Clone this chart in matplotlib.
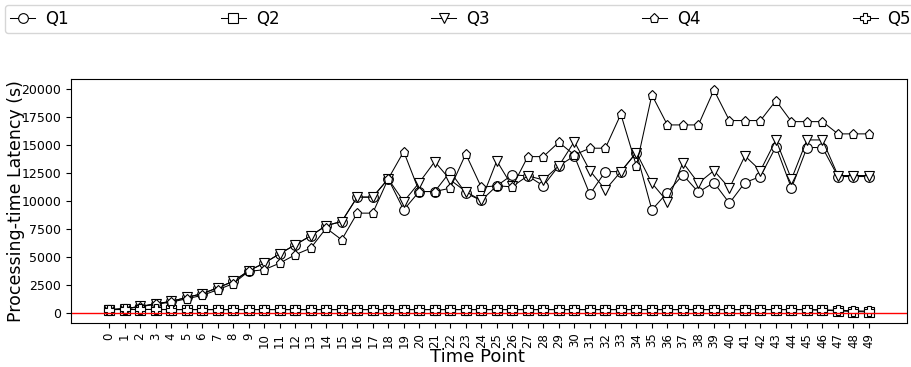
import numpy as np
import matplotlib
matplotlib.use('Agg')
import matplotlib.pyplot as plt

time_points = list(range(50))

q1 = [270, 360, 560, 800, 1010, 1370, 1700, 2230, 2800, 3750,
      4430, 5270, 6070, 6870, 7790, 8150, 10330, 10330, 11960, 9190,
      10830, 10830, 12610, 10680, 10030, 11340, 12320, 12230, 11340, 13120,
      14010, 10590, 12610, 12610, 14310, 9190, 10740, 12320, 10770, 11630,
      9790, 11630, 12170, 14850, 11130, 14760, 14760, 12170, 12170, 12170]

q2 = [280, 290, 290, 290, 280, 280, 280, 280, 280, 280,
      280, 280, 280, 280, 280, 280, 280, 280, 280, 280,
      280, 280, 280, 280, 280, 280, 280, 280, 280, 280,
      280, 280, 280, 280, 280, 280, 280, 280, 280, 280,
      280, 280, 280, 280, 280, 280, 230, 170, 110, 80]

q3 = [270, 360, 560, 800, 1010, 1370, 1700, 2230, 2800, 3750,
      4430, 5270, 6070, 6870, 7790, 8150, 10330, 10330, 11960, 9930,
      11630, 13500, 11870, 10830, 10030, 13570, 11280, 12230, 11870, 13120,
      15290, 12700, 10980, 12610, 14310, 11580, 9930, 13420, 11580, 12700,
      11130, 14010, 12700, 15440, 11930, 15440, 15440, 12260, 12260, 12260]

q4 = [270, 360, 540, 760, 950, 1250, 1550, 2050, 2600, 3700,
      3840, 4430, 5180, 5770, 7560, 6520, 8900, 8900, 11960, 14400,
      10830, 10830, 11130, 14190, 11220, 11340, 11250, 13950, 13950, 15230,
      14100, 14700, 14700, 17740, 13120, 19460, 16780, 16780, 16780, 19900,
      17170, 17170, 17170, 18950, 17075, 17075, 17075, 15980, 15980, 15980]

q5 = [290, 300, 300, 300, 290, 290, 290, 290, 290, 290,
      290, 290, 290, 290, 290, 290, 290, 290, 290, 290,
      290, 290, 290, 290, 290, 290, 290, 290, 290, 290,
      290, 290, 290, 290, 290, 290, 290, 290, 290, 290,
      290, 290, 290, 290, 290, 290, 260, 230, 170, 140]

series = [('Q1', q1, 'o', 7), ('Q2', q2, 's', 6.5), ('Q3', q3, 'v', 7),
          ('Q4', q4, 'p', 6.5), ('Q5', q5, 'P', 6.5)]

fig = plt.figure(figsize=(9.11, 3.67), dpi=100)
ax = fig.add_axes([0.078, 0.12, 0.9176, 0.665])

for name, values, marker, size in series:
    ax.plot(time_points, values, marker=marker, color='black', linewidth=0.75,
            markersize=size, markerfacecolor='white', markeredgecolor='black',
            markeredgewidth=0.8, label=name)

ax.axhline(0, color='red', linewidth=1)

ax.set_xticks(time_points)
ax.set_xticklabels([str(t) for t in time_points], rotation=90, fontsize=8.5)
ax.set_yticks(np.arange(0, 20001, 2500))
ax.tick_params(axis='y', labelsize=9)
ax.set_xlabel('Time Point', fontsize=13)
ax.set_ylabel('Processing-time Latency (s)', fontsize=12.5)
ax.xaxis.set_label_coords(0.486, -0.103)
ax.yaxis.set_label_coords(-0.055, 0.5)

fig.legend(loc='upper left', bbox_to_anchor=(0.0055, 0.986, 1.0, 0.0),
           ncol=5, mode='expand', fontsize=12, borderaxespad=0.0,
           borderpad=0.3, handlelength=1.5, handletextpad=0.6)

plt.savefig('out.png', dpi=100)
